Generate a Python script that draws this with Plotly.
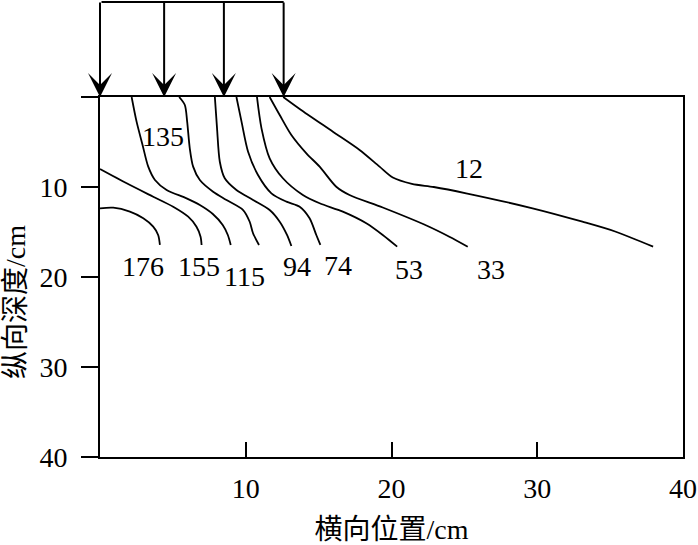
import plotly.graph_objects as go

# Isolines (x = horizontal position cm, y = depth cm)
iso_176_x = [0, 0.91, 2.05, 2.97, 3.65, 3.99, 4.11]
iso_176_y = [12.37, 12.30, 12.74, 13.48, 14.41, 15.33, 16.44]

iso_155_x = [0, 1.83, 3.65, 5.02, 6.05, 6.62, 6.90, 6.97]
iso_155_y = [8.0, 9.59, 11.08, 12.19, 13.30, 14.41, 15.52, 16.44]

iso_135_x = [2.17, 2.51, 2.92, 3.31, 3.77, 4.57, 5.94, 6.85, 7.74, 8.42, 8.77, 8.97]
iso_135_y = [0, 2.74, 5.33, 7.74, 9.22, 10.33, 11.26, 12.0, 13.0, 14.22, 15.33, 16.44]

iso_115_x = [5.43, 5.82, 5.98, 6.16, 6.39, 6.85, 7.76, 8.68, 9.82, 10.27, 10.5, 10.91]
iso_115_y = [0, 0.89, 2.74, 5.7, 7.74, 9.22, 10.52, 11.44, 12.56, 13.86, 15.14, 16.44]

iso_94_x = [7.88, 8.03, 8.22, 8.56, 9.36, 10.5, 11.64, 12.33, 12.83, 13.13]
iso_94_y = [0, 3.48, 7.19, 9.03, 10.33, 11.44, 12.56, 13.86, 15.33, 16.56]

iso_74_x = [9.36, 9.71, 10.16, 10.84, 11.76, 12.79, 13.7, 14.38, 14.84, 15.12]
iso_74_y = [0, 2.74, 6.08, 8.67, 10.7, 11.63, 12.19, 13.48, 15.33, 16.44]

iso_53_x = [10.77, 11.08, 11.64, 12.55, 13.92, 15.07, 16.66, 18.27, 19.4, 20.39]
iso_53_y = [0, 3.48, 6.81, 9.03, 10.89, 11.81, 12.74, 14.03, 15.33, 16.63]

iso_33_x = [11.64, 12.33, 13.13, 14.16, 15.07, 16.21, 17.12, 19.4, 22.47, 23.97, 25.23]
iso_33_y = [0, 2.0, 4.22, 6.26, 7.74, 9.97, 10.89, 12.28, 14.33, 15.52, 16.63]

iso_12_x = [12.57, 13.7, 15.98, 17.81, 19.18, 20.09, 21.4, 22.9, 25.12, 29.68, 33.1, 35.39, 37.95]
iso_12_y = [0, 1.33, 3.86, 5.89, 7.74, 8.95, 9.65, 10.0, 10.7, 12.37, 13.86, 14.97, 16.63]

curves = [
    (iso_176_x, iso_176_y), (iso_155_x, iso_155_y), (iso_135_x, iso_135_y),
    (iso_115_x, iso_115_y), (iso_94_x, iso_94_y), (iso_74_x, iso_74_y),
    (iso_53_x, iso_53_y), (iso_33_x, iso_33_y), (iso_12_x, iso_12_y),
]

# Isoline labels
label_text = ["176", "155", "115", "94", "74", "53", "33", "135", "12"]
label_x = [2.97, 6.8, 9.93, 13.52, 16.33, 21.23, 26.83, 4.34, 25.34]
label_y = [18.85, 18.85, 19.97, 18.85, 18.67, 19.22, 19.22, 4.41, 7.92]

# Load positions (arrows on the surface)
arrow_x = [0, 4.4, 8.5, 12.6]

x_ticks = [10, 20, 30, 40]
y_ticks = [0, 10, 20, 30, 40]
y_ticktext = ["", "10", "20", "30", "40"]

SERIF = "Liberation Serif, Times New Roman, serif"
CJK = "Liberation Serif, Noto Sans CJK SC, serif"

fig = go.Figure()
for cx, cy in curves:
    fig.add_trace(go.Scatter(
        x=cx, y=cy, mode="lines",
        line=dict(color="black", width=1.8, shape="spline", smoothing=0.8),
        showlegend=False, hoverinfo="skip", cliponaxis=False,
    ))

annotations = []
for t, lx, ly in zip(label_text, label_x, label_y):
    annotations.append(dict(
        x=lx, y=ly, xref="x", yref="y", text=t, showarrow=False,
        font=dict(family=SERIF, size=28, color="black"),
        xanchor="center", yanchor="middle",
    ))

for ax_ in arrow_x:
    annotations.append(dict(
        x=ax_, y=0, xref="x", yref="y", text="", showarrow=True,
        ax=0, ay=-96, axref="pixel", ayref="pixel",
        arrowhead=3, arrowsize=2.0, arrowwidth=2, arrowcolor="black",
        standoff=0,
    ))

# horizontal bar connecting the arrows
annotations.append(dict(
    x=arrow_x[-1], y=1.2639, xref="x", yref="paper", text="", showarrow=True,
    ax=arrow_x[0], ay=0, axref="x", ayref="pixel",
    arrowhead=0, arrowwidth=2, arrowcolor="black", standoff=0, startstandoff=0,
))

# y-axis title
annotations.append(dict(
    x=-0.146, y=0.43, xref="paper", yref="paper", text="纵向深度/cm",
    textangle=-90, showarrow=False, xanchor="center", yanchor="middle",
    font=dict(family=CJK, size=28, color="black"),
))

fig.update_layout(
    width=698, height=545,
    margin=dict(l=100, r=15, t=97, b=88, autoexpand=False),
    plot_bgcolor="white", paper_bgcolor="white",
    annotations=annotations,
    xaxis=dict(
        range=[0, 40], tickvals=x_ticks, ticks="inside", ticklen=15,
        tickwidth=2, tickcolor="black", showline=True, linewidth=2,
        linecolor="black", mirror=True, showgrid=False, zeroline=False,
        tickfont=dict(family=SERIF, size=28, color="black"),
        ticklabelstandoff=5, automargin=False,
        title=dict(text="横向位置/cm", font=dict(family=CJK, size=28, color="black"),
                   standoff=18),
    ),
    yaxis=dict(
        range=[40, 0], tickvals=y_ticks, ticktext=y_ticktext, ticks="outside",
        ticklen=17, tickwidth=2, tickcolor="black", showline=True, linewidth=2,
        linecolor="black", mirror=True, showgrid=False, zeroline=False,
        tickfont=dict(family=SERIF, size=28, color="black"),
        ticklabelstandoff=8, automargin=False,
    ),
)

fig.write_html("out.html", config={"displayModeBar": False},
               post_script="document.body.style.margin='0px';")
